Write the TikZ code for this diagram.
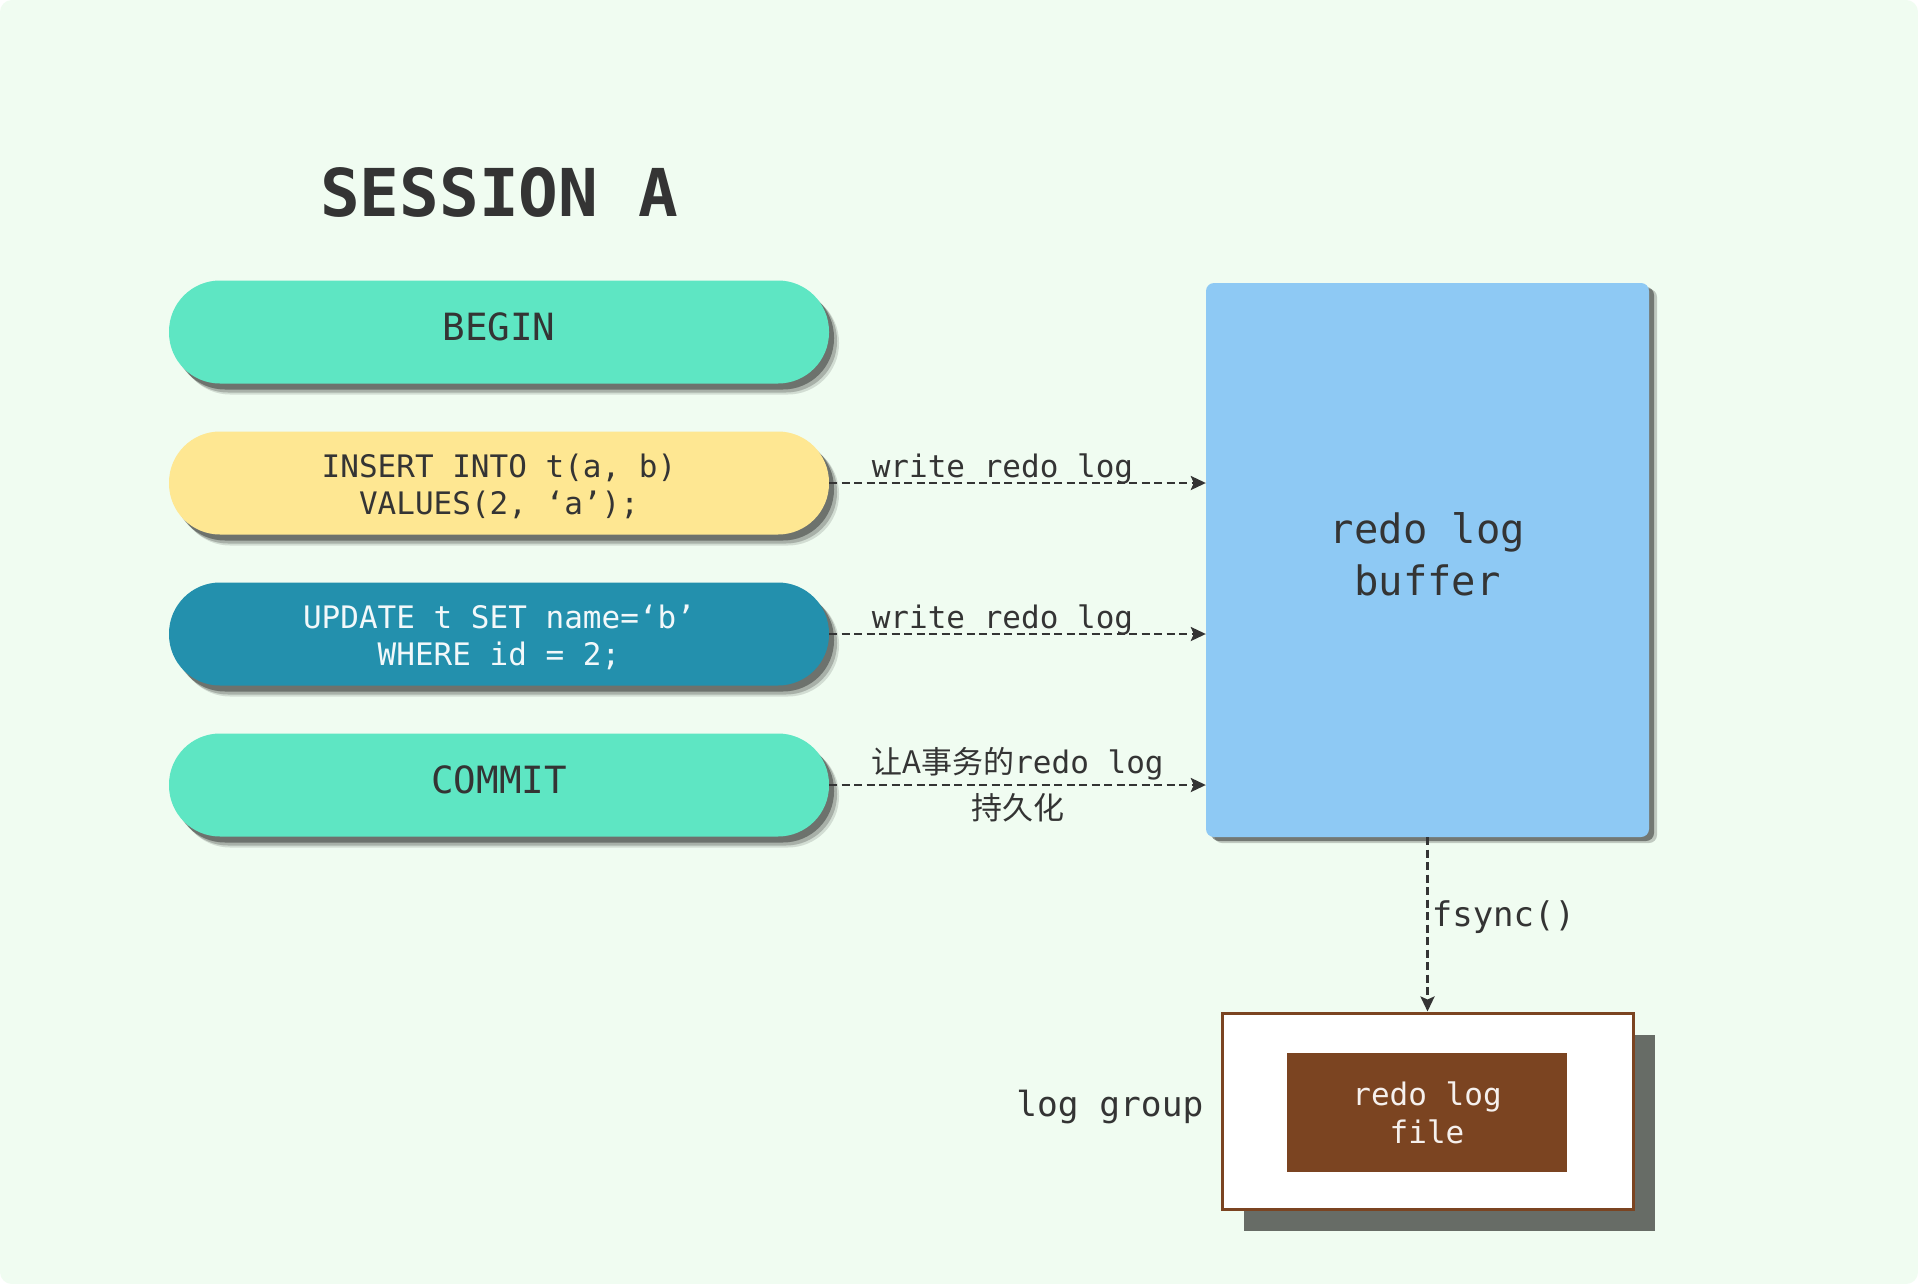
\documentclass[tikz,border=0pt]{standalone}
\usepackage{fontspec}
\usetikzlibrary{arrows.meta,shadows,calc}
\newfontfamily\tmono{DejaVu Sans Mono}
\newfontfamily\cjk{Noto Sans CJK SC}
\definecolor{bgc}{HTML}{F0FCF1}
\definecolor{mint}{HTML}{5EE6C3}
\definecolor{yel}{HTML}{FEE792}
\definecolor{teal}{HTML}{2390AD}
\definecolor{sky}{HTML}{8EC9F4}
\definecolor{brn}{HTML}{7B4421}
\definecolor{ink}{HTML}{343434}
\definecolor{shd}{HTML}{676C66}
% #1 raise of last baseline, #2 baseline distance, #3 first line, #4 second line
\newcommand{\twolines}[4]{\raisebox{#1}[0pt][0pt]{\vbox{\baselineskip=#2\lineskiplimit=-100pt\lineskip=0pt\halign{\hfil##\hfil\cr#3\cr#4\cr}}}}
\tikzset{
  pill/.style={rectangle, rounded corners=51pt, minimum width=660pt, minimum height=103pt,
    inner sep=0pt, text=ink,
    drop shadow={shadow xshift=10pt, shadow yshift=-11pt, opacity=0.12, fill=black},
    drop shadow={shadow xshift=8pt, shadow yshift=-9pt, opacity=0.2, fill=black},
    drop shadow={shadow xshift=5pt, shadow yshift=-6pt, opacity=0.35, fill=black}},
  bigtxt/.style={font=\tmono\fontsize{37.5}{40}\selectfont, text depth=10pt},
  smalltxt/.style={font=\tmono\fontsize{31}{37}\selectfont},
  flow/.style={draw=ink, line width=2.6pt, dash pattern=on 8pt off 4.5pt,
    -{Stealth[length=15pt,width=14pt,inset=3pt]}},
  lbl/.style={text=ink, font=\tmono\fontsize{31}{36}\selectfont, inner sep=2pt}
}
\begin{document}
\begin{tikzpicture}[x=1pt,y=-1pt]
\useasboundingbox (0,0) rectangle (1918,1284);
\fill[white] (0,0) rectangle (1918,1284);
\fill[bgc, rounded corners=12pt] (0,0) rectangle (1918,1284);

% title
\node (title) [text=ink, font=\tmono\bfseries\fontsize{66}{70}\selectfont] at (499,192) {SESSION A};

% statements
\node (begin) [pill, fill=mint, bigtxt] at (499,332) {BEGIN};
\node (ins) [pill, fill=yel, smalltxt] at (499,483)
  {\twolines{-31pt}{37pt}{INSERT INTO t(a, b)}{VALUES(2, ‘a’);}};
\node (upd) [pill, fill=teal, smalltxt, text=white!94!teal] at (499,634)
  {\twolines{-31pt}{37pt}{UPDATE t SET name=‘b’}{WHERE id = 2;}};
\node (com) [pill, fill=mint, bigtxt] at (499,785) {COMMIT};

% redo log buffer
\node (buf) [rectangle, rounded corners=8pt, fill=sky, minimum width=443pt, minimum height=554pt,
  inner sep=0pt, text=ink, font=\tmono\fontsize{40.5}{51}\selectfont,
  drop shadow={shadow xshift=8pt, shadow yshift=-6pt, opacity=0.2, fill=black},
  drop shadow={shadow xshift=5pt, shadow yshift=-4pt, opacity=0.4, fill=black}]
  at (1427.5,560) {\twolines{-35pt}{52pt}{redo log}{buffer}};

% log group
\fill[shd] (1244,1035) rectangle (1655,1231);
\node (grp) [rectangle, draw=brn, line width=3pt, fill=white, minimum width=411pt,
  minimum height=196pt, inner sep=0pt] at (1427.5,1111) {};
\node (file) [rectangle, fill=brn, minimum width=280pt, minimum height=119pt, inner sep=0pt,
  text=white!92!brn, font=\tmono\fontsize{31}{38}\selectfont]
  at (1427,1112.5) {\twolines{-30.5pt}{38pt}{redo log}{file}};
\node (grplbl) [anchor=east, text=ink, font=\tmono\fontsize{34.5}{40}\selectfont, inner sep=0pt]
  at ($(grp.west)+(-17,-4)$) {log group};

% connectors
\draw[flow] (ins.east) -- (ins.east -| buf.west)
  node[lbl, above, pos=0.46, yshift=-4pt] {write redo log};
\draw[flow] (upd.east) -- (upd.east -| buf.west)
  node[lbl, above, pos=0.46, yshift=-4pt] {write redo log};
\draw[flow] (com.east) -- (com.east -| buf.west)
  node[lbl, pos=0.5, align=center, font=\fontsize{31}{46}\selectfont]
  {{\cjk 让A事务的}{\tmono redo log}\\{\cjk 持久化}};
\draw[flow] (buf.south -| grp.north) -- (grp.north)
  node[pos=0.46, anchor=west, text=ink, font=\tmono\fontsize{34}{40}\selectfont, inner sep=3pt] {fsync()};
\end{tikzpicture}
\end{document}
